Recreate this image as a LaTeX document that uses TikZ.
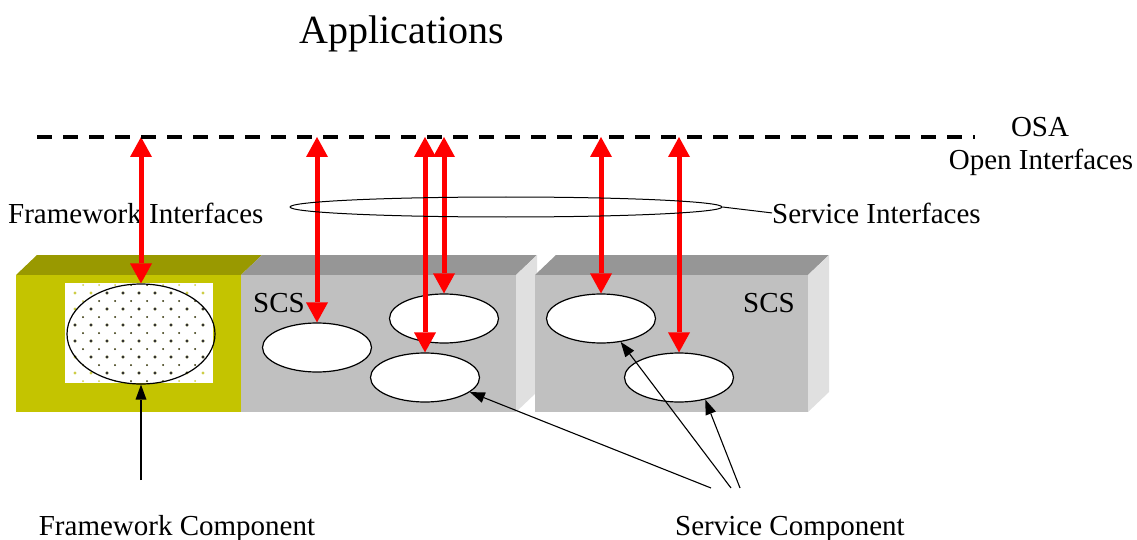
\documentclass[tikz,border=0pt]{standalone}
\usepackage{fontspec}
\setmainfont{Liberation Serif}
\usetikzlibrary{arrows.meta,shapes.geometric}
\definecolor{olivefront}{RGB}{196,196,0}
\definecolor{olivetop}{RGB}{153,153,0}
\definecolor{grayfront}{RGB}{192,192,192}
\definecolor{graytop}{RGB}{150,150,150}
\definecolor{grayside}{RGB}{224,224,224}
\definecolor{dotyellow}{RGB}{205,205,70}
\definecolor{dotdark}{RGB}{50,50,50}
\definecolor{arrowred}{RGB}{255,0,0}
\begin{document}
\begin{tikzpicture}[x=1pt,y=-1pt,
  lbl/.style={font=\fontsize{29}{34}\selectfont, inner sep=0pt},
  comp/.style={ellipse, draw=black, line width=1.2pt, fill=white, minimum width=109pt, minimum height=49pt, inner sep=0pt},
  redarrow/.style={draw=arrowred, line width=5pt, {Triangle[width=22pt,length=20pt,line width=0pt]}-{Triangle[width=22pt,length=20pt,line width=0pt]}},
  ptr/.style={draw=black, line width=1.1pt, -{Triangle[width=11pt,length=15pt,line width=0pt]}},
]
\useasboundingbox (0,0) rectangle (1137,540);

% block 1 (framework + SCS)
\fill[olivetop] (16,275) -- (241,275) -- (262,255) -- (37,255) -- cycle;
\fill[graytop] (241,275) -- (516,275) -- (537,255) -- (262,255) -- cycle;
\fill[olivefront] (16,275) rectangle (241,412);
\fill[grayfront] (241,275) rectangle (516,412);
\fill[grayside] (516,275) -- (537,255) -- (537,392) -- (516,412) -- cycle;
% block 2 (SCS)
\fill[graytop] (535,275) -- (808,275) -- (829,255) -- (556,255) -- cycle;
\fill[grayfront] (535,275) rectangle (808,412);
\fill[grayside] (808,275) -- (829,255) -- (829,392) -- (808,412) -- cycle;

% framework component
\node[fill=white, minimum width=148pt, minimum height=100pt, inner sep=0pt] (fwbox) at (139,333) {};
\foreach \i in {0,...,8} \foreach \j in {0,...,5} \fill[dotyellow] ({75+16*\i},{293+16*\j}) circle (1.6pt);
\foreach \i in {0,...,7} \foreach \j in {0,...,6} \fill[dotyellow] ({83+16*\i},{285+16*\j}) circle (1pt);
\begin{scope}
  \clip (141,334) ellipse [x radius=74pt, y radius=50pt];
  \foreach \i in {0,...,8} \foreach \j in {0,...,5} \fill[dotdark] ({75+16*\i},{293+16*\j}) circle (1.6pt);
  \foreach \i in {0,...,7} \foreach \j in {0,...,6} \fill[dotdark] ({83+16*\i},{285+16*\j}) circle (1pt);
\end{scope}
\node[ellipse, draw=black, line width=1.2pt, minimum width=148pt, minimum height=100pt, inner sep=0pt] (fw) at (141,334) {};

% service components
\node[comp] (e1) at (317,347.5) {};
\node[comp] (e2) at (444,318.5) {};
\node[comp] (e3) at (425,377.5) {};
\node[comp] (e4) at (601,318.5) {};
\node[comp] (e5) at (679,377.5) {};

% labels
\node[font=\fontsize{40}{48}\selectfont, inner sep=0pt, anchor=base] (app) at (402,44) {Applications};
\node[lbl, anchor=base] (osa) at (1040,137) {OSA};
\node[lbl, anchor=base] (oi) at (1041,170) {Open Interfaces};
\node[lbl, anchor=base west] (fi) at (8,223) {Framework Interfaces};
\node[lbl, anchor=base west] (silbl) at (772,223) {Service Interfaces};
\node[lbl, anchor=base west] (scs1) at (253,312) {SCS};
\node[lbl, anchor=base west] (scs2) at (743,312) {SCS};
\node[lbl, anchor=base] (fclbl) at (177,535) {Framework Component};
\node[lbl, anchor=base] (sclbl) at (790,535) {Service Component};

% OSA line coordinates
\coordinate (l0) at (37,137);
\coordinate (l1) at (975,137);
\coordinate (t1) at (141,137);
\coordinate (t2) at (317,137);
\coordinate (t3) at (425,137);
\coordinate (t4) at (444,137);
\coordinate (t5) at (601,137);
\coordinate (t6) at (679,137);

% red interface arrows
\draw[redarrow] (t1) -- (fw.north);
\draw[redarrow] (t2) -- (e1.north);
\draw[redarrow] (t3) -- (e3.north);
\draw[redarrow] (t4) -- (e2.north);
\draw[redarrow] (t5) -- (e4.north);
\draw[redarrow] (t6) -- (e5.north);

% OSA dashed line
\draw[line width=4.5pt, dash pattern=on 15pt off 11pt] (l0) -- (l1);

% service interfaces ellipse
\node[ellipse, draw=black, line width=1pt, minimum width=432pt, minimum height=20pt, inner sep=0pt] (si) at (506,207) {};
\draw[line width=1pt] (si.east) -- (silbl.west);

% component pointers
\coordinate (fc) at (141,480);
\coordinate (sc1) at (711,488);
\coordinate (sc2) at (731,488);
\coordinate (sc3) at (740,488);
\draw[ptr] (fc) -- (fw.south);
\draw[ptr] (sc1) -- (e3.-18);
\draw[ptr] (sc2) -- (e4.-50);
\draw[ptr] (sc3) -- (e5.-40);
\end{tikzpicture}
\end{document}
